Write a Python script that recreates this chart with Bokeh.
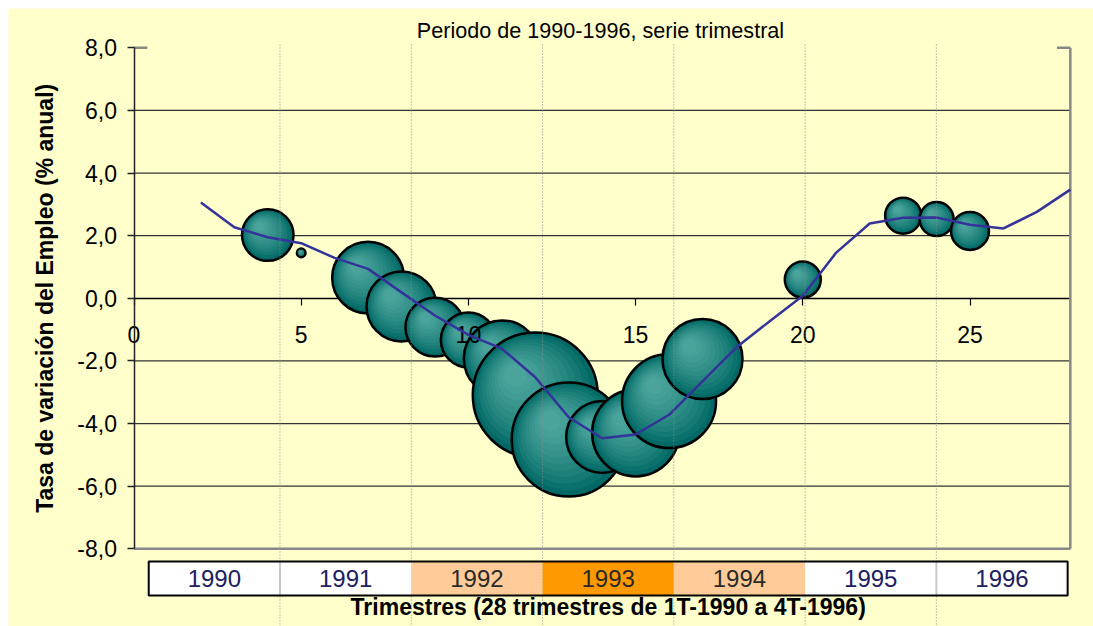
import math
from bokeh.plotting import figure
from bokeh.models import Range1d, FixedTicker
from bokeh.embed import file_html
from bokeh.resources import INLINE
from bokeh.core.properties import value

# ---------------- data ----------------
trimestre = list(range(2, 29))
tasa_empleo = [3.06, 2.27, 1.95, 1.76, 1.29, 0.94, 0.19, -0.55, -1.17, -1.61,
               -2.52, -3.80, -4.47, -4.35, -3.72, -2.65, -1.58, -0.74, 0.08,
               1.46, 2.39, 2.57, 2.58, 2.35, 2.23, 2.76, 3.47]

burbuja_x = [4, 5, 7, 8, 9, 10, 11, 12, 13, 14, 15, 16, 17, 20, 23, 24, 25]
burbuja_y = [2.02, 1.45, 0.66, -0.26, -0.92, -1.33, -1.92, -3.09, -4.51,
             -4.43, -4.30, -3.28, -1.94, 0.60, 2.64, 2.53, 2.15]
burbuja_tam = [17.0, 0.47, 33.0, 31.4, 22.3, 19.4, 37.0, 100.0, 83.2,
               33.2, 48.4, 56.6, 41.0, 8.3, 8.3, 7.4, 9.2]

anios = ["1990", "1991", "1992", "1993", "1994", "1995", "1996"]
anios_color = ["#FFFFFF", "#FFFFFF", "#FFCC99", "#FF9900", "#FFCC99", "#FFFFFF", "#FFFFFF"]

y_ticks = [-8, -6, -4, -2, 0, 2, 4, 6, 8]
y_tick_labels = ["-8,0", "-6,0", "-4,0", "-2,0", "0,0", "2,0", "4,0", "6,0", "8,0"]
x_ticks = [0, 5, 10, 15, 20, 25]

titulo = "Periodo de 1990-1996, serie trimestral"
eje_y = "Tasa de variación del Empleo (% anual)"
eje_x = "Trimestres (28 trimestres de 1T-1990 a 4T-1996)"

# ---------------- layout / style ----------------
W, H = 1085, 618
XS, XE = -3.753, 28.693
YS, YE = -10.482, 9.256
PX = W / (XE - XS)
PY = H / (YE - YS)
BG = "#FFFFCC"
FONT = "Liberation Sans"
Y_LO, Y_HI = y_ticks[0], y_ticks[-1]
X_LEFT, X_RIGHT = 0, trimestre[-1]

TABLE_L, TABLE_R = 0.44, 27.92
TABLE_TOP, TABLE_BOT = -8.406, -9.492
TEXT_Y = (TABLE_TOP + TABLE_BOT) / 2
XLABEL_Y = -9.875
TITLE_X, TITLE_Y = 13.95, 8.553
YLABEL_X = -2.65
DOT_TOP = 8.106
STUB = 0.4

p = figure(width=W, height=H, x_range=Range1d(XS, XE), y_range=Range1d(YS, YE),
           output_backend="svg", toolbar_location=None, title=None,
           min_border_left=0, min_border_right=0, min_border_top=0, min_border_bottom=0,
           background_fill_color=BG, border_fill_color=BG, outline_line_color=None,
           margin=(8, 0, 0, 8))

# y axis
yax = p.yaxis[0]
yax.fixed_location = 0
yax.bounds = (Y_LO, Y_HI)
yax.ticker = FixedTicker(ticks=y_ticks)
yax.major_label_overrides = {t: l for t, l in zip(y_ticks, y_tick_labels)}
yax.axis_line_color = "#222222"
yax.axis_line_width = 1.5
yax.major_tick_line_color = "#222222"
yax.major_tick_line_width = 1.5
yax.major_tick_out = 7
yax.major_tick_in = 0
yax.minor_tick_line_color = None
yax.major_label_text_font = FONT
yax.major_label_text_font_size = "23px"
yax.major_label_text_color = "black"
yax.major_label_standoff = 10

# x axis line (behind bubbles)
xax = p.xaxis[0]
xax.fixed_location = 0
xax.bounds = (X_LEFT, X_RIGHT)
xax.ticker = FixedTicker(ticks=x_ticks)
xax.level = "underlay"
xax.axis_line_color = "black"
xax.axis_line_width = 1.5
xax.major_tick_line_color = "black"
xax.major_tick_line_width = 1.2
xax.major_tick_out = 7
xax.major_tick_in = 0
xax.minor_tick_line_color = None
xax.major_label_text_color = None

p.xgrid.visible = False
p.ygrid.visible = False

# horizontal grid lines (between axis bounds)
gy = [t for t in y_ticks if t not in (Y_LO, 0, Y_HI)]
p.segment(x0=[X_LEFT] * len(gy), y0=gy, x1=[X_RIGHT] * len(gy), y1=gy,
          line_color="#333333", line_width=1.3)

# frame border (bottom and right, gray) + top stubs
p.segment(x0=[X_LEFT, X_RIGHT, X_LEFT, X_RIGHT - STUB],
          y0=[Y_LO, Y_LO, Y_HI, Y_HI],
          x1=[X_RIGHT, X_RIGHT, X_LEFT + STUB, X_RIGHT],
          y1=[Y_LO, Y_HI, Y_HI, Y_HI],
          line_color="#888888", line_width=2.5)

# bubbles (pseudo radial shading)
R_MAX = 62.5
BASE = "#006865"
HL = "#80ccc6"
N_L = 10
for bx, by, bs in zip(burbuja_x, burbuja_y, burbuja_tam):
    r = R_MAX * math.sqrt(bs / 100.0)
    p.scatter([bx], [by], size=2 * r, fill_color=BASE, line_color="black", line_width=2.5)
    for k in range(1, N_L + 1):
        frac = 1 - 0.082 * k
        off = 0.32 * r * (1 - frac) / 0.82
        p.scatter([bx - off / PX], [by + off / PY], size=2 * r * frac,
                  fill_color=HL, fill_alpha=0.085, line_color=None)

# x tick labels on top of bubbles
p.text(x=x_ticks, y=[0] * len(x_ticks), text=[str(t) for t in x_ticks],
       text_font=value(FONT), text_font_size="23px", text_align="center",
       text_baseline="middle", y_offset=36, text_color="black")

# line
p.line(trimestre, tasa_empleo, line_color="#333399", line_width=2.5)

# year table
n = len(anios)
step = (TABLE_R - TABLE_L) / n
edges = [TABLE_L + i * step for i in range(n + 1)]
p.segment(x0=edges[1:-1], y0=[DOT_TOP] * (n - 1), x1=edges[1:-1], y1=[YS] * (n - 1),
          line_color="#8a8a8a", line_width=1, line_dash="1 2")
p.quad(left=edges[:-1], right=edges[1:], top=[TABLE_TOP] * n, bottom=[TABLE_BOT] * n,
       fill_color=anios_color, line_color=None)
div = [edges[i + 1] for i in range(n - 1)
       if anios_color[i] == "#FFFFFF" and anios_color[i + 1] == "#FFFFFF"]
p.segment(x0=div, y0=[TABLE_TOP] * len(div), x1=div, y1=[TABLE_BOT] * len(div),
          line_color="#c8c8c8", line_width=2)
p.quad(left=[edges[0]], right=[edges[-1]], top=[TABLE_TOP], bottom=[TABLE_BOT],
       fill_color=None, line_color="black", line_width=2)
centers = [(edges[i] + edges[i + 1]) / 2 for i in range(n)]
txt_col = ["#202060" if c == "#FFFFFF" else "#2a2a2a" for c in anios_color]
p.text(x=centers, y=[TEXT_Y] * n, text=anios, text_font=value(FONT),
       text_font_size="24px", text_align="center", text_baseline="middle",
       text_color=txt_col)

# x label
p.text(x=[(edges[0] + edges[-1]) / 2], y=[XLABEL_Y], text=[eje_x], text_font=value(FONT),
       text_font_size="23px", text_font_style="bold", text_align="center",
       text_baseline="middle", text_color="black")

# title
p.text(x=[TITLE_X], y=[TITLE_Y], text=[titulo], text_font=value(FONT),
       text_font_size="21.6px", text_align="center", text_baseline="middle",
       text_color="black")

# y label
p.text(x=[YLABEL_X], y=[0], text=[eje_y], angle=math.pi / 2, text_font=value(FONT),
       text_font_size="23px", text_font_style="bold", text_align="center",
       text_baseline="middle", text_color="black")

open("out.html", "w").write(file_html(p, INLINE))
